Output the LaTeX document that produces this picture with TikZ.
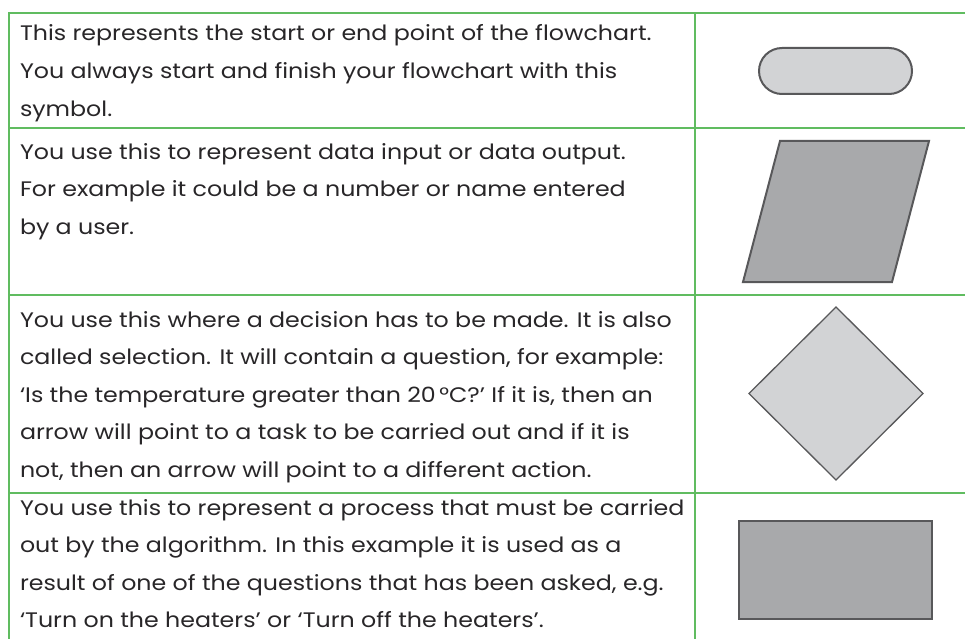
\documentclass[tikz,border=0pt]{standalone}
\usepackage{fontspec}
\setmainfont[FakeStretch=1.13]{Poppins}
\usepackage{tikz}
\usetikzlibrary{shapes, shapes.geometric, shapes.misc, positioning}

\definecolor{linegreen}{RGB}{96,188,96}
\definecolor{textgray}{RGB}{40,38,40}
\definecolor{symbolline}{RGB}{88,88,90}
\definecolor{lightfill}{RGB}{210,211,213}
\definecolor{darkfill}{RGB}{168,169,171}

\begin{document}
\begin{tikzpicture}[x=1pt, y=-1pt,
    every node/.style={inner sep=0pt, outer sep=0pt},
    celltext/.style={anchor=base west, align=left, text=textgray,
      font=\fontsize{21}{37.6}\selectfont},
    grid/.style={draw=linegreen, line width=1.5pt},
    symbol/.style={draw=symbolline, line width=2pt}]

\useasboundingbox (0,0) rectangle (965,639);

% Tabellenlinien
\draw[grid] (965,13) -- (9,13) -- (9,639);
\draw[grid] (695,13) -- (695,639);
\foreach \y in {128,295,493}
  \draw[grid] (9,\y) -- (965,\y);

% Linke Spalte (Anker = Grundlinie der letzten Zeile)
\node[celltext] (T1) at (20,116.2) {This represents the start or end point of the flowchart.\\
  You always start and finish your flowchart with this\\ symbol.};
\node[celltext] (T2) at (20,234.2) {You use this to represent data input or data output.\\
  For example it could be a number or name entered\\ by a user.};
\node[celltext] (T3) at (20,477.4) {You use this where a decision has to be made. It is also\\
  called selection. It will contain a question, for example:\\
  `Is the temperature greater than 20\,\textdegree C?' If it is, then an\\
  arrow will point to a task to be carried out and if it is\\
  not, then an arrow will point to a different action.};
\node[celltext] (T4) at (20,627.8) {You use this to represent a process that must be carried\\
  out by the algorithm. In this example it is used as a\\
  result of one of the questions that has been asked, e.g.\\
  `Turn on the heaters' or `Turn off the heaters'.};

% Rechte Spalte: Symbole
\node[symbol, fill=lightfill, rounded rectangle, minimum width=153pt, minimum height=46pt] (S1) at (835.5,71) {};
\draw[symbol, fill=darkfill, line join=miter] (780,141) -- (929,141) -- (892,282) -- (743,282) -- cycle;
\node[symbol, line width=1.3pt, fill=lightfill, diamond, minimum width=174pt, minimum height=173pt] (S3) at (836,393.5) {};
\node[symbol, fill=darkfill, rectangle, minimum width=193pt, minimum height=98pt] (S4) at (835.5,570) {};

\end{tikzpicture}
\end{document}
